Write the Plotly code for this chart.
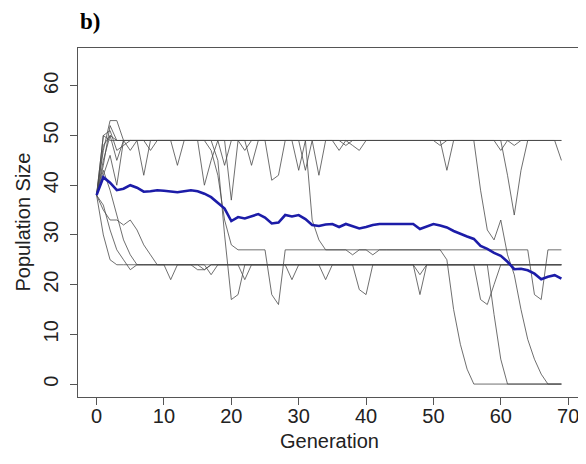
import plotly.graph_objects as go

generations = list(range(70))

run_01 = [38, 45, 50, 49, 49, 49, 49, 42, 49, 49,
          49, 49, 49, 49, 49, 49, 49, 49, 49, 49,
          49, 49, 49, 49, 49, 49, 49, 49, 49, 49,
          49, 43, 49, 49, 49, 49, 49, 49, 49, 49,
          49, 49, 49, 49, 49, 49, 49, 49, 49, 49,
          49, 49, 43, 49, 49, 49, 49, 49, 49, 49,
          49, 49, 49, 49, 49, 49, 49, 49, 49, 45]
run_02 = [38, 47, 53, 53, 49, 49, 49, 49, 49, 49,
          49, 49, 44, 49, 49, 49, 49, 49, 49, 49,
          37, 49, 49, 49, 49, 49, 41, 42, 49, 49,
          49, 49, 49, 49, 49, 49, 47, 49, 49, 49,
          49, 49, 49, 49, 49, 49, 49, 49, 49, 49,
          49, 49, 49, 49, 49, 49, 49, 49, 49, 49,
          49, 42, 34, 43, 49, 49, 49, 49, 49, 49]
run_03 = [38, 50, 51, 47, 48, 49, 49, 49, 47, 49,
          49, 49, 49, 49, 49, 49, 40, 45, 49, 49,
          49, 49, 49, 44, 49, 49, 49, 49, 49, 49,
          49, 49, 49, 42, 49, 49, 49, 49, 48, 47,
          49, 49, 49, 49, 49, 49, 49, 49, 49, 49,
          49, 48, 49, 49, 49, 49, 49, 49, 49, 49,
          47, 49, 48, 49, 49, 49, 49, 49, 49, 49]
run_04 = [38, 44, 52, 49, 49, 49, 49, 49, 49, 49,
          49, 49, 49, 49, 49, 49, 49, 47, 42, 33,
          28, 27, 27, 27, 27, 27, 18, 16, 27, 27,
          27, 27, 27, 27, 27, 27, 27, 27, 26, 27,
          27, 27, 27, 27, 27, 27, 27, 27, 27, 27,
          27, 27, 25, 15, 8, 3, 0, 0, 0, 0,
          0, 0, 0, 0, 0, 0, 0, 0, 0, 0]
run_05 = [38, 42, 46, 40, 49, 49, 49, 49, 49, 49,
          49, 49, 49, 49, 49, 49, 49, 49, 49, 49,
          49, 49, 47, 49, 49, 49, 49, 49, 49, 49,
          49, 49, 33, 29, 27, 27, 27, 27, 27, 27,
          27, 26, 27, 27, 27, 27, 27, 27, 27, 27,
          27, 27, 27, 27, 27, 27, 27, 27, 27, 27,
          27, 27, 27, 27, 27, 18, 17, 27, 27, 27]
run_06 = [38, 48, 50, 45, 49, 49, 49, 49, 49, 49,
          49, 49, 49, 49, 49, 49, 49, 49, 45, 30,
          17, 18, 24, 24, 24, 24, 24, 24, 24, 21,
          24, 24, 24, 24, 24, 24, 24, 24, 24, 19,
          18, 24, 24, 24, 24, 24, 24, 24, 24, 24,
          24, 24, 24, 24, 24, 24, 24, 24, 24, 24,
          24, 24, 24, 24, 24, 24, 24, 24, 24, 24]
run_07 = [38, 30, 25, 24, 24, 24, 24, 24, 24, 24,
          24, 21, 24, 24, 24, 24, 24, 22, 24, 24,
          24, 24, 24, 24, 24, 24, 24, 24, 24, 24,
          24, 24, 24, 24, 21, 24, 24, 24, 24, 24,
          24, 24, 24, 24, 24, 24, 24, 24, 18, 24,
          24, 24, 24, 24, 24, 24, 24, 24, 24, 14,
          5, 0, 0, 0, 0, 0, 0, 0, 0, 0]
run_08 = [38, 35, 33, 33, 32, 33, 31, 28, 26, 24,
          24, 24, 24, 24, 24, 24, 24, 24, 24, 24,
          24, 24, 21, 24, 24, 24, 24, 24, 24, 24,
          24, 24, 24, 24, 24, 24, 24, 24, 24, 24,
          24, 24, 24, 24, 24, 24, 24, 24, 22, 24,
          24, 24, 24, 24, 24, 24, 24, 17, 16, 20,
          24, 24, 24, 24, 24, 24, 24, 24, 24, 24]
run_09 = [38, 36, 31, 27, 25, 23, 24, 24, 24, 24,
          24, 24, 24, 24, 24, 23, 23, 24, 24, 24,
          24, 24, 24, 24, 24, 24, 24, 24, 24, 24,
          24, 24, 24, 24, 24, 24, 24, 24, 24, 24,
          24, 24, 24, 24, 24, 24, 24, 24, 24, 24,
          24, 24, 24, 24, 24, 24, 24, 24, 24, 24,
          24, 24, 24, 24, 24, 24, 24, 24, 24, 24]
run_10 = [38, 50, 49, 49, 49, 47, 49, 49, 49, 49,
          49, 49, 49, 49, 49, 49, 49, 49, 49, 44,
          49, 49, 49, 49, 49, 49, 49, 49, 49, 49,
          43, 49, 49, 49, 49, 49, 49, 48, 49, 49,
          49, 49, 49, 49, 49, 49, 49, 49, 49, 49,
          49, 49, 49, 49, 49, 49, 49, 39, 31, 29,
          33, 26, 22, 15, 9, 5, 2, 0, 0, 0]
run_11 = [38, 43, 39, 34, 29, 26, 24, 24, 24, 24,
          24, 24, 24, 24, 24, 24, 23, 24, 24, 24,
          24, 24, 24, 24, 24, 24, 24, 24, 24, 24,
          24, 24, 24, 24, 24, 24, 24, 24, 24, 24,
          24, 24, 24, 24, 24, 24, 24, 24, 24, 24,
          24, 24, 24, 24, 24, 24, 24, 24, 24, 24,
          24, 24, 24, 24, 24, 24, 24, 24, 24, 24]

runs = [run_01, run_02, run_03, run_04, run_05, run_06,
        run_07, run_08, run_09, run_10, run_11]

mean_size = [38, 41.6, 40.5, 39, 39.3, 40, 39.5, 38.7, 38.8, 39,
             38.9, 38.8, 38.6, 38.8, 39, 38.8, 38.3, 37.6, 36.5, 35.3,
             32.8, 33.6, 33.3, 33.8, 34.2, 33.5, 32.3, 32.5, 34, 33.7,
             34, 33.2, 32, 31.8, 32.1, 32.2, 31.6, 32.2, 31.7, 31.3,
             31.6, 32, 32.2, 32.2, 32.2, 32.2, 32.2, 32.2, 31.2, 31.7,
             32.2, 31.9, 31.5, 30.8, 30.2, 29.7, 29.2, 27.8, 27.2, 26.4,
             25.8, 24.6, 23.1, 23.2, 22.9, 22.2, 21.1, 21.6, 21.9, 21.2]

x_ticks = [0, 10, 20, 30, 40, 50, 60, 70]
y_ticks = [0, 10, 20, 30, 40, 50, 60]

fig = go.Figure()
for r in runs:
    fig.add_trace(go.Scatter(x=generations, y=r, mode="lines",
                             line=dict(color="#4a4a4a", width=0.8),
                             hoverinfo="skip", showlegend=False))
fig.add_trace(go.Scatter(x=generations, y=mean_size, mode="lines",
                         line=dict(color="#1c1ca8", width=2.6),
                         hoverinfo="skip", showlegend=False))

axis_font = dict(family="Liberation Sans, Arial, sans-serif", size=20, color="#222")
# page body has an 8px default margin, so the figure is offset by 8px
fig.update_layout(
    width=578, height=456,
    margin=dict(l=70, r=6, t=40, b=67),
    plot_bgcolor="white", paper_bgcolor="white",
    xaxis=dict(range=[-2.76, 71.76], tickvals=x_ticks, ticks="outside", ticklen=7,
               tickcolor="#555", showline=True, linecolor="#555", linewidth=1,
               mirror=True, showgrid=False, zeroline=False, tickfont=axis_font,
               automargin=False, ticklabelstandoff=-6),
    yaxis=dict(range=[-2.6, 67.6], tickvals=y_ticks, ticks="outside", ticklen=7,
               tickcolor="#555", showline=True, linecolor="#555", linewidth=1,
               mirror=True, showgrid=False, zeroline=False, tickfont=axis_font,
               tickangle=-90, automargin=False, ticklabelstandoff=4),
    annotations=[
        dict(text="<b>b)</b>", xref="paper", yref="paper", x=0, y=1,
             xanchor="left", yanchor="bottom", yshift=12, showarrow=False,
             font=dict(family="Liberation Serif, Times New Roman, serif",
                       size=23, color="#000")),
        dict(text="Generation", xref="paper", yref="paper", x=0.5, y=0,
             xanchor="center", yanchor="middle", yshift=-44, showarrow=False,
             font=axis_font),
        dict(text="Population Size", xref="paper", yref="paper", x=0, y=0.5,
             xanchor="center", yanchor="middle", xshift=-56, textangle=-90,
             showarrow=False, font=axis_font),
    ],
)

fig.write_html("out.html")
